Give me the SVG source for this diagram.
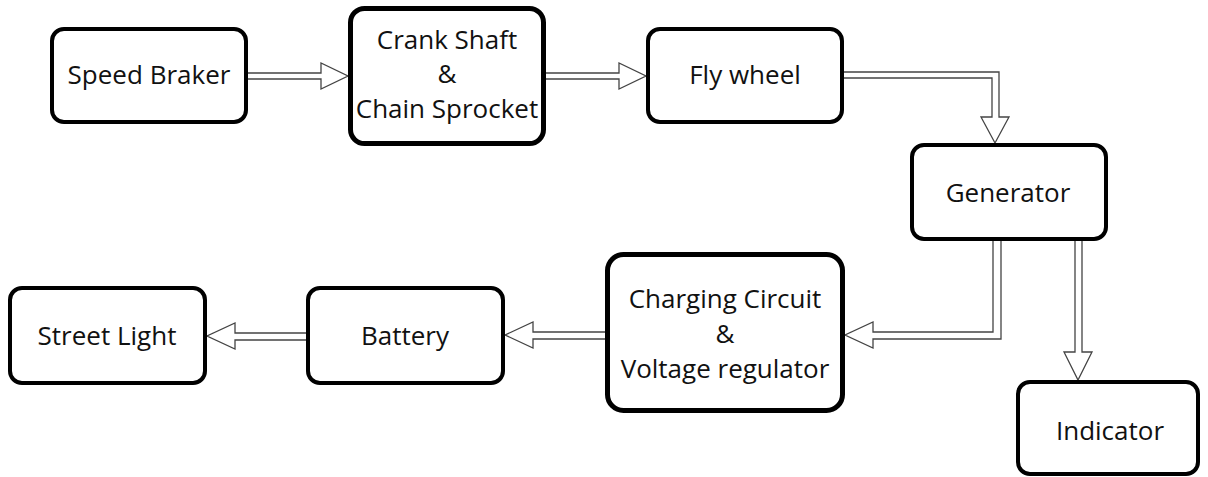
<svg xmlns="http://www.w3.org/2000/svg" width="1208" height="477" viewBox="0 0 1208 477">
<style>
.box{fill:#fff;stroke:#000;stroke-width:4}
.bold{stroke-width:5}
.lbl{font-family:"Open Sans","Noto Sans",sans-serif;font-size:26px;fill:#111;text-anchor:middle}
.conn{fill:#fff;stroke:#444;stroke-width:1.3;stroke-linejoin:miter}
</style>
<rect width="1208" height="477" fill="#fff"/>
<g id="connectors">
<path class="conn" d="M248,73 H321 V63 L348,76 L321,89 V79 H248"/>
<path class="conn" d="M546,73 H619 V63 L646,76 L619,89 V79 H546"/>
<path class="conn" d="M844,72 H999 V117 H1009 L995,143 L981,117 H992 V78 H844"/>
<path class="conn" d="M993,241 V332 H873 V322 L845,335 L873,348 V339 H1001 V241"/>
<path class="conn" d="M1075,241 V352 H1064 L1078,380 L1092,352 H1082 V241"/>
<path class="conn" d="M605,332 H533 V322 L505,335 L533,348 V339 H605"/>
<path class="conn" d="M306,333 H235 V323 L207,336 L235,349 V340 H306"/>
</g>
<g id="speed-braker">
<rect class="box" x="52" y="29" width="194" height="93" rx="12"/>
<text class="lbl" x="149" y="84">Speed Braker</text>
</g>
<g id="crank-shaft">
<rect class="box bold" x="350.5" y="8.5" width="193" height="135" rx="14"/>
<text class="lbl" x="447" y="49">Crank Shaft</text>
<text class="lbl" x="447" y="83">&amp;</text>
<text class="lbl" x="447" y="118">Chain Sprocket</text>
</g>
<g id="fly-wheel">
<rect class="box" x="648" y="29" width="194" height="93" rx="12"/>
<text class="lbl" x="745" y="84">Fly wheel</text>
</g>
<g id="generator">
<rect class="box" x="912" y="145" width="194" height="94" rx="12"/>
<text class="lbl" x="1008" y="202">Generator</text>
</g>
<g id="charging-circuit">
<rect class="box bold" x="607.5" y="254.5" width="235" height="156" rx="16"/>
<text class="lbl" x="725" y="308">Charging Circuit</text>
<text class="lbl" x="725" y="343">&amp;</text>
<text class="lbl" x="725" y="378">Voltage regulator</text>
</g>
<g id="battery">
<rect class="box" x="308" y="288" width="195" height="95" rx="12"/>
<text class="lbl" x="405" y="345">Battery</text>
</g>
<g id="street-light">
<rect class="box" x="10" y="288" width="195" height="95" rx="12"/>
<text class="lbl" x="107" y="345">Street Light</text>
</g>
<g id="indicator">
<rect class="box" x="1018" y="382" width="180" height="92" rx="12"/>
<text class="lbl" x="1110" y="440">Indicator</text>
</g>
</svg>
